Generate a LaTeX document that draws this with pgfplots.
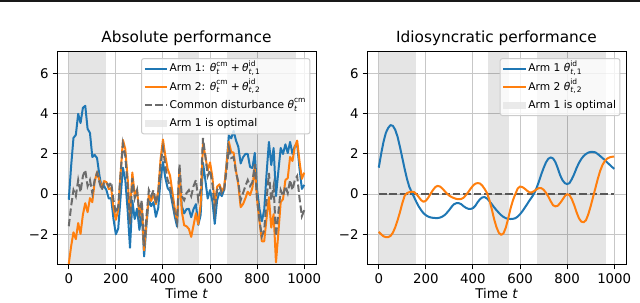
\documentclass[border=0pt]{standalone}
\usepackage{amsmath}
\usepackage{fontspec}
\setmainfont{DejaVu Sans}
\usepackage{pgfplots}
\usepackage{pgfplotstable}
\pgfplotsset{compat=1.18}
\definecolor{c1}{HTML}{1F77B4}
\definecolor{c2}{HTML}{FF7F0E}
\definecolor{cmgray}{gray}{0.42}
\definecolor{zgray}{gray}{0.35}
\definecolor{shade}{gray}{0.9}
\newcommand{\thet}{\text{\itshape θ}}
\newcommand{\tit}{\text{\itshape t}}

\pgfplotstableread{
t a1 a2 cm
0 -0.28 -3.48 -1.6
10 1.4 -2.6 -0.6
20 2.8 -1.9 0.2
30 2.95 -2.24 -0.1
40 4.0 -1.44 0.7
50 3.54 -1.98 0.1
60 4.3 -1.02 0.9
70 4.4 -0.45 1.2
80 3.25 -0.9 0.4
90 3.05 -0.2 0.7
100 1.85 -0.4 0.05
110 1.95 0.62 0.7
120 1.8 1.1 1.05
130 0.95 0.7 0.6
140 0.3 0.32 0.2
150 0.4 0.65 0.55
160 0.2 0.6 0.6
170 -0.22 0.25 0.4
180 -0.2 0.3 0.6
190 -1.25 -0.68 -0.3
200 -2.0 -1.28 -0.95
210 -1.72 -0.78 -0.6
220 -0.16 1.02 1.0
230 1.32 2.7 2.5
240 0.71 2.25 1.9
250 -0.79 0.81 0.4
260 -2.67 -1.12 -1.5
270 -0.32 1.08 0.8
280 -1.24 -0.05 -0.2
290 -0.72 0.22 0.2
300 -1.78 -1.08 -1.0
310 -0.92 -0.45 -0.3
320 -3.1 -2.8 -2.6
330 -1.55 -1.34 -1.1
340 -0.25 -0.05 0.2
350 -0.6 -0.34 -0.1
360 -0.4 0.02 0.2
370 -1.13 -0.5 -0.45
380 -0.68 0.15 0.05
390 0.76 1.77 1.5
400 1.6 2.72 2.3
410 0.82 1.92 1.4
420 0.3 1.25 0.7
430 0.15 0.93 0.4
440 -0.46 0.12 -0.3
450 -1.1 -0.7 -0.95
460 -1.62 -1.35 -1.4
470 1.15 1.2 1.5
480 -0.6 -0.85 -0.1
490 -0.96 -1.55 -0.3
500 -0.75 -1.6 0.05
510 -0.73 -1.73 0.2
520 -1.15 -2.13 -0.1
530 -0.74 -1.55 0.4
540 -0.5 -0.95 0.7
550 -1.53 -1.5 -0.3
560 -1.04 -0.5 0.2
570 1.57 2.5 2.8
580 0.7 1.9 1.9
590 -0.22 1.18 0.9
600 0.2 1.58 1.2
610 -0.35 0.85 0.5
620 -1.48 -0.53 -0.8
630 -0.3 0.37 0.2
640 0.08 0.49 0.4
650 -0.1 0.14 0.05
660 0.23 0.35 0.2
670 1.5 1.44 1.2
680 2.92 2.6 2.3
690 2.78 2.1 1.8
700 3.15 2.07 1.85
710 2.68 1.17 1.1
720 2.36 0.48 0.6
730 1.53 -0.65 -0.3
740 1.83 -0.5 0.05
750 2.0 -0.21 0.4
760 2.0 0.12 0.7
770 1.35 -0.05 0.4
780 1.3 0.32 0.6
790 2.05 1.4 1.5
800 0.2 -0.3 -0.3
810 -0.75 -1.35 -1.3
820 -1.35 -2.35 -2.1
830 -0.8 -2.35 -1.8
840 1.0 -1.2 -0.3
850 2.6 -0.15 1.05
860 1.45 -1.67 -0.3
870 2.3 -1.0 0.4
880 -0.1 -3.4 -2.1
890 1.12 -1.95 -0.95
900 2.3 -0.4 0.2
910 2.0 -0.25 -0.1
920 2.48 0.7 0.4
930 2.05 0.8 0.05
940 2.6 1.85 0.7
950 2.0 1.65 0.2
960 2.4 2.35 0.7
970 2.48 2.67 0.9
980 1.27 1.63 -0.2
990 0.26 0.76 -1.1
1000 0.46 1.07 -0.8
}\lefttab

\pgfplotstableread{
t id1 id2 z
0 1.32 -1.88 0
10 2.0 -2.0 0
20 2.6 -2.1 0
30 3.05 -2.14 0
40 3.3 -2.14 0
50 3.44 -2.08 0
60 3.4 -1.92 0
70 3.2 -1.65 0
80 2.85 -1.3 0
90 2.35 -0.9 0
100 1.8 -0.45 0
110 1.25 -0.08 0
120 0.75 0.05 0
130 0.35 0.1 0
140 0.1 0.12 0
150 -0.15 0.1 0
160 -0.4 0.0 0
170 -0.62 -0.15 0
180 -0.8 -0.3 0
190 -0.95 -0.38 0
200 -1.05 -0.33 0
210 -1.12 -0.18 0
220 -1.16 0.02 0
230 -1.18 0.2 0
240 -1.19 0.35 0
250 -1.19 0.41 0
260 -1.17 0.38 0
270 -1.12 0.28 0
280 -1.04 0.15 0
290 -0.92 0.02 0
300 -0.78 -0.08 0
310 -0.62 -0.15 0
320 -0.5 -0.2 0
330 -0.45 -0.24 0
340 -0.45 -0.25 0
350 -0.5 -0.24 0
360 -0.6 -0.18 0
370 -0.68 -0.05 0
380 -0.73 0.1 0
390 -0.74 0.27 0
400 -0.7 0.42 0
410 -0.58 0.52 0
420 -0.4 0.55 0
430 -0.25 0.53 0
440 -0.16 0.42 0
450 -0.15 0.25 0
460 -0.22 0.05 0
470 -0.35 -0.3 0
480 -0.5 -0.75 0
490 -0.66 -1.25 0
500 -0.8 -1.65 0
510 -0.93 -1.93 0
520 -1.05 -2.03 0
530 -1.14 -1.95 0
540 -1.2 -1.65 0
550 -1.23 -1.2 0
560 -1.24 -0.7 0
570 -1.23 -0.3 0
580 -1.2 0.0 0
590 -1.12 0.28 0
600 -1.0 0.38 0
610 -0.85 0.35 0
620 -0.68 0.27 0
630 -0.5 0.17 0
640 -0.32 0.09 0
650 -0.15 0.09 0
660 0.03 0.15 0
670 0.3 0.24 0
680 0.62 0.3 0
690 0.98 0.3 0
700 1.3 0.22 0
710 1.58 0.07 0
720 1.76 -0.12 0
730 1.83 -0.35 0
740 1.78 -0.55 0
750 1.6 -0.61 0
760 1.3 -0.58 0
770 0.95 -0.45 0
780 0.7 -0.28 0
790 0.55 -0.1 0
800 0.5 0.0 0
810 0.55 -0.05 0
820 0.75 -0.25 0
830 1.0 -0.55 0
840 1.3 -0.9 0
850 1.55 -1.2 0
860 1.75 -1.37 0
870 1.9 -1.4 0
880 2.0 -1.3 0
890 2.07 -1.0 0
900 2.1 -0.6 0
910 2.1 -0.15 0
920 2.08 0.3 0
930 2.0 0.75 0
940 1.9 1.15 0
950 1.8 1.45 0
960 1.7 1.65 0
970 1.58 1.77 0
980 1.47 1.83 0
990 1.36 1.86 0
1000 1.26 1.87 0
}\righttab

\pgfplotsset{
  myaxis/.style={
    width=233.1pt, height=191.7pt, scale only axis,
    xmin=-50, xmax=1050, ymin=-3.53, ymax=7.08,
    xtick={0,200,400,600,800,1000}, xticklabels={0,200,400,600,800,1000},
    ytick={-2,0,2,4,6}, yticklabels={−2,0,2,4,6},
    grid=major, major grid style={line width=0.9pt, draw=black!22},
    tick align=outside, tick pos=left, major tick length=4pt,
    every tick/.style={black, line width=0.9pt},
    axis line style={line width=0.9pt},
    tick label style={font=\fontsize{12}{14}\selectfont},
    title style={font=\fontsize{13.8}{16}\selectfont, yshift=-4pt},
    xlabel={Time {\itshape t}},
    xlabel style={font=\fontsize{12}{14}\selectfont, yshift=2pt},
    legend cell align=left,
    legend style={at={(1,1)}, anchor=north east, xshift=-5pt, yshift=-5.5pt,
      draw=black!20, line width=0.9pt, rounded corners=2pt,
      fill=white, fill opacity=0.8, draw opacity=1, text opacity=1,
      font=\fontsize{9.6}{11.5}\selectfont,
      inner xsep=2pt, inner ysep=2pt, row sep=1.9pt,
      nodes={inner sep=1.5pt, text height=8.5pt, text depth=3pt}},
  },
  legline/.style={legend image code/.code={\draw[##1, sharp corners] (0pt,0pt) -- (20pt,0pt);}},
  legpatch/.style={legend image code/.code={\path[fill=shade, draw=none, sharp corners] (0pt,-3.2pt) rectangle (20pt,3.2pt);}},
  shadefill/.style={fill=black, fill opacity=0.1, draw=none, forget plot},
  dsh/.style={dash pattern=on 6.6pt off 2.9pt},
}

\begin{document}
\begin{tikzpicture}
\useasboundingbox (0,0) rectangle (576pt,272.7pt);
\draw[line width=1.8pt, black!90] (0,271.8pt) -- (576pt,271.8pt);

\begin{axis}[myaxis, at={(51.3pt,34.2pt)}, anchor=south west, title={Absolute performance}]
  \addplot[shadefill] coordinates {(0,-10) (158,-10) (158,10) (0,10)} -- cycle;
  \addplot[shadefill] coordinates {(466,-10) (555,-10) (555,10) (466,10)} -- cycle;
  \addplot[shadefill] coordinates {(671,-10) (966,-10) (966,10) (671,10)} -- cycle;
  \addplot[c1, line width=1.8pt, line join=round, legline] table[x=t,y=a1] {\lefttab};
  \addlegendentry{Arm 1: $\thet^{\text{cm}}_{\tit}\mathbin{\text{+}}\thet^{\text{id}}_{\text{{\itshape t},\,1}}$}
  \addplot[c2, line width=1.8pt, line join=round, legline] table[x=t,y=a2] {\lefttab};
  \addlegendentry{Arm 2: $\thet^{\text{cm}}_{\tit}\mathbin{\text{+}}\thet^{\text{id}}_{\text{{\itshape t},\,2}}$}
  \addplot[cmgray, line width=1.8pt, dsh, legline] table[x=t,y=cm] {\lefttab};
  \addlegendentry{Common disturbance $\thet^{\text{cm}}_{\tit}$}
  \addlegendimage{legpatch}
  \addlegendentry{Arm 1 is optimal}
\end{axis}

\begin{axis}[myaxis, at={(330.3pt,34.2pt)}, anchor=south west, title={Idiosyncratic performance}]
  \addplot[shadefill] coordinates {(0,-10) (158,-10) (158,10) (0,10)} -- cycle;
  \addplot[shadefill] coordinates {(466,-10) (555,-10) (555,10) (466,10)} -- cycle;
  \addplot[shadefill] coordinates {(671,-10) (966,-10) (966,10) (671,10)} -- cycle;
  \addplot[zgray, line width=1.8pt, dsh, forget plot] table[x=t,y=z] {\righttab};
  \addplot[c1, line width=1.8pt, line join=round, legline] table[x=t,y=id1] {\righttab};
  \addlegendentry{Arm 1 $\thet^{\text{id}}_{\text{{\itshape t},\,1}}$}
  \addplot[c2, line width=1.8pt, line join=round, legline] table[x=t,y=id2] {\righttab};
  \addlegendentry{Arm 2 $\thet^{\text{id}}_{\text{{\itshape t},\,2}}$}
  \addlegendimage{legpatch}
  \addlegendentry{Arm 1 is optimal}
\end{axis}
\end{tikzpicture}
\end{document}
